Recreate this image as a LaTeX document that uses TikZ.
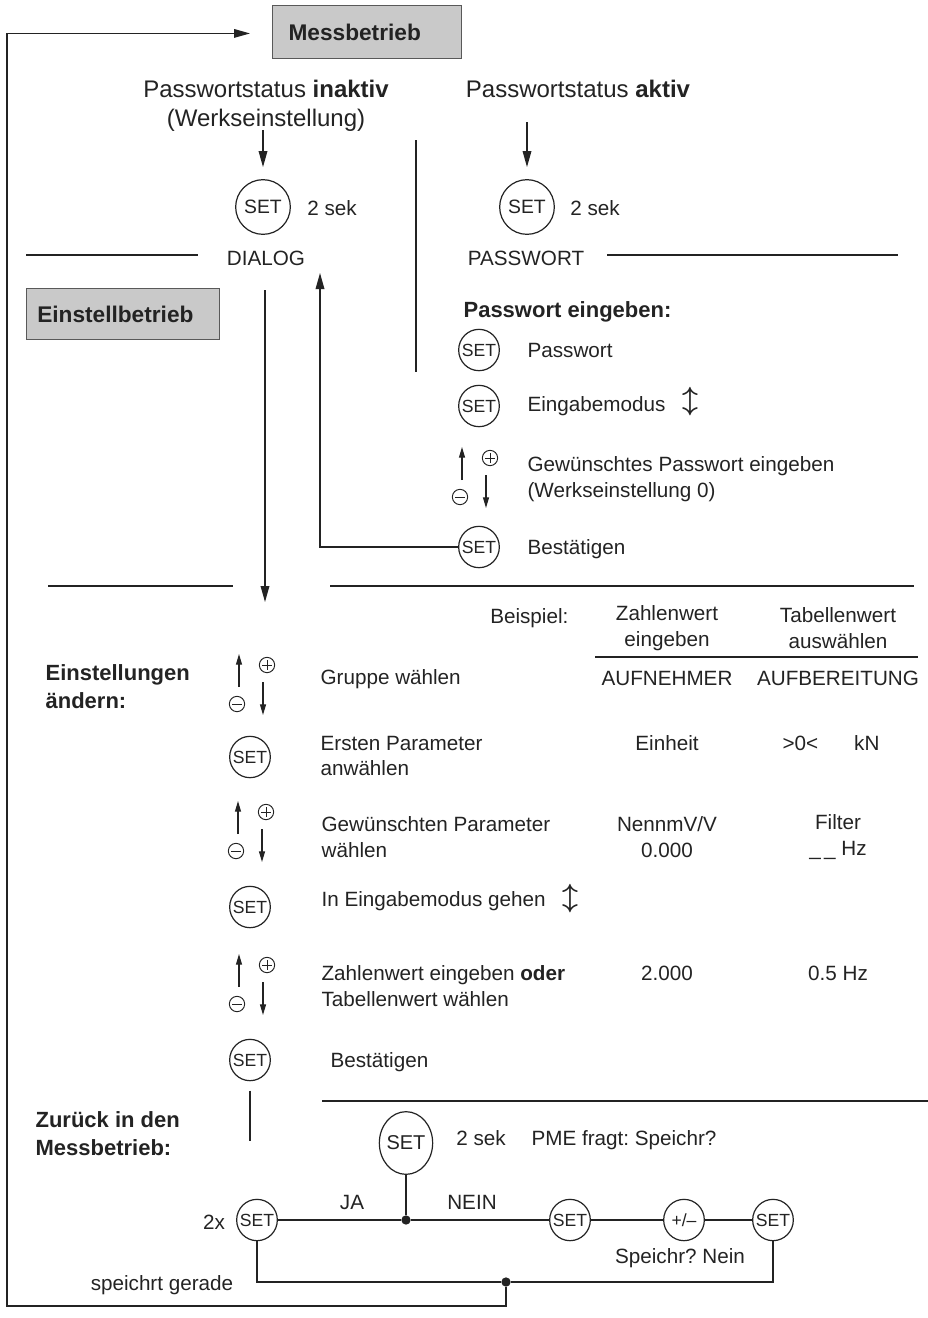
\documentclass[tikz,border=0pt]{standalone}
\usepackage{fontspec}
\setmainfont{Liberation Sans}
\usepackage{amsmath}
\usepackage{amssymb}
\usetikzlibrary{positioning,arrows.meta,shapes.geometric}
\definecolor{modegray}{RGB}{201,201,201}
\definecolor{inkgray}{RGB}{35,35,35}
\frenchspacing

\begin{document}
\begin{tikzpicture}[x=0.75pt,y=-0.75pt,line width=0.9pt,color=inkgray,
  txt/.style={font=\fontsize{15.5}{19}\selectfont,inner sep=0pt,text height=11pt,text depth=0pt},
  txtblock/.style={font=\fontsize{15.5}{19}\selectfont,inner sep=0pt,align=left},
  head/.style={font=\fontsize{18}{22}\selectfont,inner sep=0pt,text height=12.8pt,text depth=0pt},
  bold/.style={font=\fontsize{16.5}{20}\selectfont\bfseries,inner sep=0pt,text height=12pt,text depth=0pt},
  boldblock/.style={font=\fontsize{16.5}{21}\selectfont\bfseries,inner sep=0pt,align=left},
  modebox/.style={draw=black!65,fill=modegray,font=\fontsize{17}{20}\selectfont\bfseries,
    anchor=north west,align=left,inner ysep=0pt},
  setmid/.style={draw,ellipse,inner xsep=-2pt,inner ysep=0pt,minimum width=41pt,minimum height=41pt,font=\fontsize{14.5}{14.5}\selectfont},
  setsmall/.style={draw,ellipse,inner xsep=-4pt,inner ysep=0pt,minimum width=30.5pt,minimum height=31pt,font=\fontsize{13.2}{13.2}\selectfont},
  setbig/.style={draw,ellipse,inner xsep=-2pt,inner ysep=0pt,minimum width=40pt,minimum height=47pt,font=\fontsize{15}{15}\selectfont},
  dot/.style={circle,fill=inkgray,inner sep=0pt,minimum size=7pt},
  plusbtn/.style={draw,circle,inner sep=0pt,minimum size=11.5pt,line width=0.7pt,
    path picture={\draw[line width=0.7pt] ([xshift=-3.5pt]path picture bounding box.center) -- ([xshift=3.5pt]path picture bounding box.center);
                  \draw[line width=0.7pt] ([yshift=-3.5pt]path picture bounding box.center) -- ([yshift=3.5pt]path picture bounding box.center);}},
  minusbtn/.style={draw,circle,inner sep=0pt,minimum size=11.5pt,line width=0.7pt,
    path picture={\draw[line width=0.7pt] ([xshift=-3.5pt]path picture bounding box.center) -- ([xshift=3.5pt]path picture bounding box.center);}},
  ud/.style={inner sep=0pt,font=\fontsize{20}{20}\selectfont},
  arr/.style={-{Triangle[length=12pt,width=6.5pt]}},
  tinyarr/.style={-{Triangle[length=8pt,width=4.5pt]}}
]
\useasboundingbox (0,0) rectangle (928,1318);

% Messbetrieb
\node[modebox,text width=117.75pt,inner xsep=12pt,minimum height=39.75pt] (mess) at (272,5) {Messbetrieb};

% Passwortstatus inaktiv
\node[head] (inaktiv) at (266,89) {Passwortstatus \textbf{inaktiv}};
\node[head] (werk) at (266,118) {(Werkseinstellung)};
\node[setmid] (set1) at (263,207) {SET};
\node[txt] (sek1) at (332,208) {2 sek};
\draw[arr] ([yshift=-2pt]werk.south -| set1.north) -- ([yshift=9pt]set1.north);

% Passwortstatus aktiv
\node[head] (aktiv) at (578,89) {Passwortstatus \textbf{aktiv}};
\node[setmid] (set2) at (527,207) {SET};
\node[txt] (sek2) at (595,208) {2 sek};
\draw[arr] ([yshift=-18pt]aktiv.south -| set2.north) -- ([yshift=9pt]set2.north);

% Trennlinien
\draw (26,255) -- (198,255);
\node[txt] (dialog) at (266,258) {DIALOG};
\node[txt] (pwmode) at (526,258) {PASSWORT};
\draw (607,255) -- (898,255);
\draw (416,140) -- (416,372);

% Einstellbetrieb
\node[modebox,text width=128.75pt,inner xsep=8pt,minimum height=38.25pt] (einst) at (26,288) {Einstellbetrieb};

% Passwort eingeben
\node[bold,anchor=west] (pwhead) at (463,309) {Passwort eingeben:};
\node[setsmall] (pw1) at (479,350) {SET};
\node[txt,anchor=west] (pwtxt1) at (527,350) {Passwort};
\node[setsmall] (pw2) at (479,406) {SET};
\node[txt,anchor=west] (pwtxt2) at (527,404) {Eingabemodus};
\node[ud] (ud1) at (690,402) {$\boldsymbol{\updownarrow}$};
\node[txtblock,anchor=west] (pwtxt3) at (527,479) {Gewünschtes Passwort eingeben\\(Werkseinstellung 0)};
\node[setsmall] (pw3) at (479,547) {SET};
\node[txt,anchor=west] (pwtxt4) at (527,547) {Bestätigen};

% Wege DIALOG
\coordinate (dlgdown) at (265,290);
\coordinate (dlgend) at (265,602);
\coordinate (dlgup) at (320,273);
\draw[arr] (dlgdown) -- (dlgend);
\draw[arr] (pw3.west) -| (dlgup);

\draw (48,586) -- (233,586);
\draw (330,586) -- (914,586);

% Beispiel
\node[txt,anchor=east] (bsp) at (569,616) {Beispiel:};
\node[txtblock,align=center] (colA) at (667,628) {Zahlenwert\\eingeben};
\node[txtblock,align=center] (colB) at (838,628) {Tabellenwert\\auswählen};
\draw (595,657) -- (918,657);

% Einstellungen aendern
\node[boldblock,anchor=west] (einhead) at (45,687) {Einstellungen\\ändern:};

\node[txt,anchor=west] (r1) at (320,677) {Gruppe wählen};
\node[txt] (r1a) at (667,678) {AUFNEHMER};
\node[txt] (r1b) at (838,678) {AUFBEREITUNG};

\node[setsmall] (s2) at (250,757) {SET};
\node[txtblock,anchor=west] (r2) at (320,756) {Ersten Parameter\\anwählen};
\node[txt] (r2a) at (667,743) {Einheit};
\node[txt] (r2b) at (831,743) {>0<\hspace{27pt}kN};

\node[txtblock,anchor=west] (r3) at (321,837) {Gewünschten Parameter\\wählen};
\node[txtblock,align=center] (r3a) at (667,837) {NennmV/V\\0.000};
\node[txtblock,align=center] (r3b) at (838,837) {Filter\\\_\,\_ Hz};

\node[setsmall] (s4) at (250,907) {SET};
\node[txt,anchor=west] (r4) at (321,899) {In Eingabemodus gehen};
\node[ud] (ud2) at (570,899) {$\boldsymbol{\updownarrow}$};

\node[txtblock,anchor=west] (r5) at (321,986) {Zahlenwert eingeben \textbf{oder}\\Tabellenwert wählen};
\node[txt] (r5a) at (667,973) {2.000};
\node[txt] (r5b) at (838,973) {0.5 Hz};

\node[setsmall] (s6) at (250,1060) {SET};
\node[txt,anchor=west] (r6) at (330,1060) {Bestätigen};

% Plus/Minus Tasten
\foreach \sx/\sy in {473/478,250/685,249/832,250/985}{
  \draw[tinyarr] (\sx-11,\sy+2) -- (\sx-11,\sy-31);
  \draw[tinyarr] (\sx+13,\sy-3) -- (\sx+13,\sy+30);
  \node[plusbtn] (plus\sy) at (\sx+17,\sy-20) {};
  \node[minusbtn] (minus\sy) at (\sx-13,\sy+19) {};
}

% Zurueck in den Messbetrieb
\draw ([yshift=-7pt]s6.south) -- ++(0,50);
\draw (322,1101) -- (928,1101);
\node[boldblock,anchor=west] (zurueck) at (35,1134) {Zurück in den\\Messbetrieb:};
\node[setbig] (bigset) at (406,1143) {SET};
\node[txt] (sek3) at (481,1138) {2 sek};
\node[txt] (frage) at (624,1138) {PME fragt: Speichr?};

\node[dot] (ja) at (406,1220) {};
\node[setsmall] (b1) at (257,1220) {SET};
\node[setsmall] (b2) at (570,1220) {SET};
\node[setsmall] (pmk) at (684,1220) {+/–};
\node[setsmall] (b3) at (773,1220) {SET};
\node[txt] (zweix) at (214,1222) {2x};
\node[txt] (jatxt) at (352,1202) {JA};
\node[txt] (neintxt) at (472,1202) {NEIN};
\node[txt] (nein2) at (680,1256) {Speichr? Nein};
\node[txt] (speichert) at (162,1283) {speichrt gerade};
\node[dot] (back) at (506,1282) {};

\draw (bigset) -- (ja);
\draw (b1) -- (ja) -- (b2) -- (pmk) -- (b3);
\draw (b1.south) |- (back) -| (b3.south);
\coordinate (retL) at (7,1306);
\draw[arr] (back) |- (retL) |- ([xshift=-16.5pt,yshift=-1pt]mess.west);
\end{tikzpicture}
\end{document}
